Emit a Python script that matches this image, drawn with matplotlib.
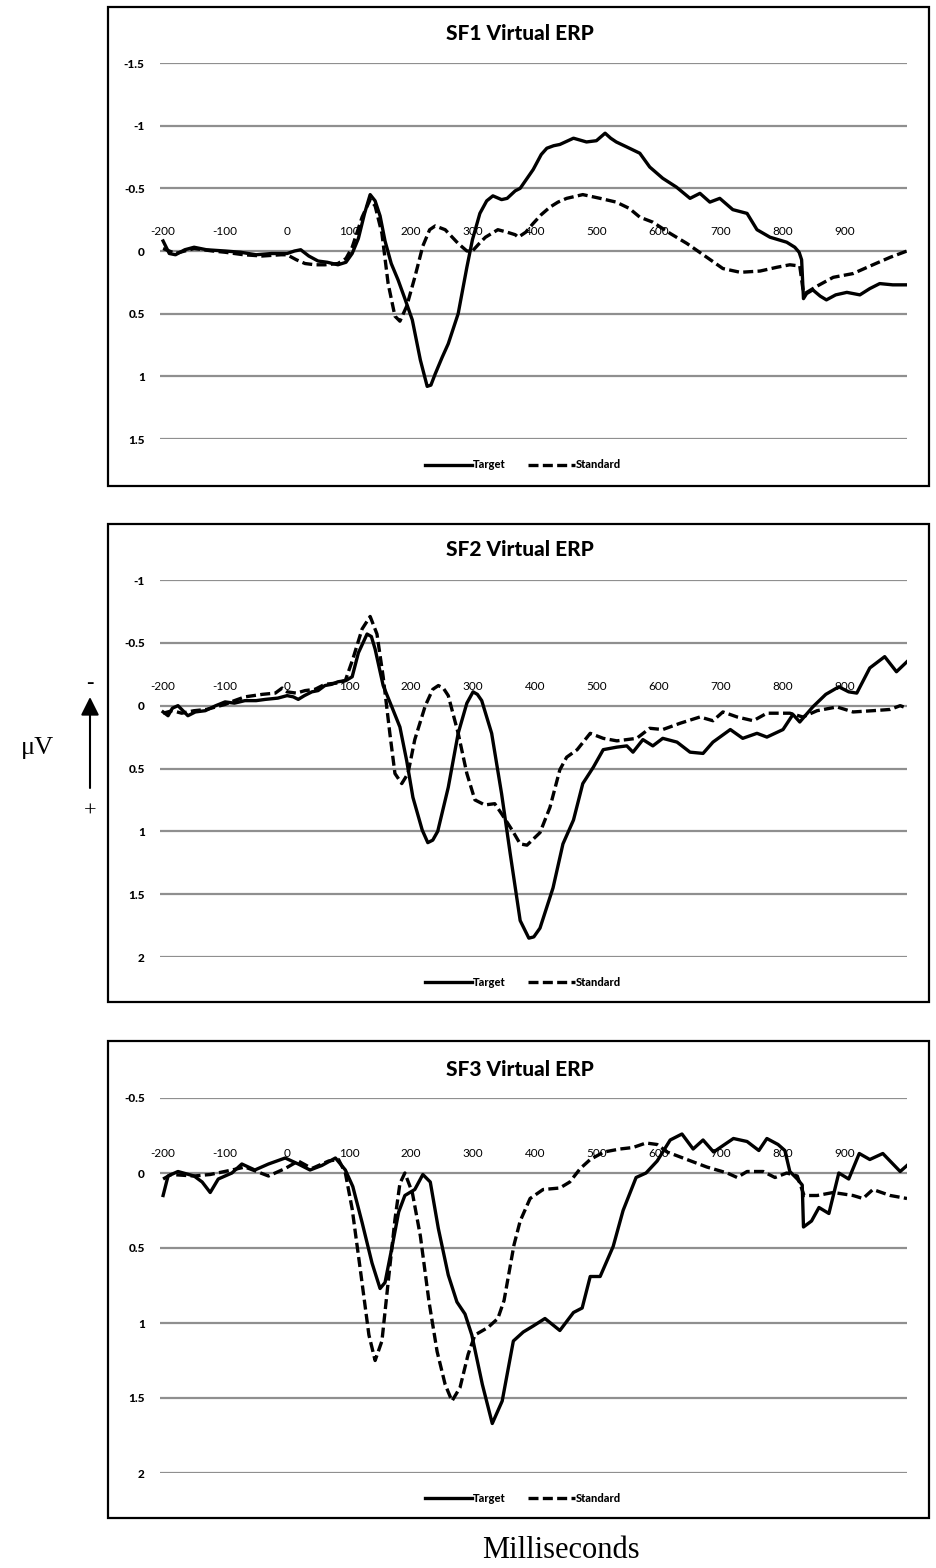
import matplotlib
matplotlib.use('Agg')
import matplotlib.pyplot as plt
from matplotlib.patches import Rectangle, FancyArrowPatch

plt.rcParams['font.family'] = ['Lato', 'DejaVu Sans']
plt.rcParams['axes.unicode_minus'] = False

W, H = 936, 1568

# ---- SF1 ----
sf1_target_ms = [-200, -190, -180, -165, -150, -130, -100, -75, -50, -25, 0, 12, 22, 35, 50, 65, 82, 95,
                 105, 115, 125, 134, 142, 150, 158, 168, 179, 190, 202, 215, 226, 232, 239, 250, 260, 268,
                 276, 290, 299, 311, 322, 332, 346, 355, 368, 376, 390, 397, 410, 419, 430, 440, 462, 483,
                 499, 513, 522, 531, 548, 569, 585, 606, 628, 650, 666, 682, 698, 719, 742, 758, 779, 806,
                 819, 826, 830, 833, 838, 848, 860, 870, 885, 903, 924, 940, 956, 977, 1000]
sf1_target_uv = [-0.08, 0.02, 0.03, -0.01, -0.03, -0.01, 0.0, 0.01, 0.03, 0.02, 0.02, 0.0, -0.01, 0.04, 0.08,
                 0.09, 0.11, 0.09, 0.02, -0.1, -0.3, -0.45, -0.4, -0.28, -0.08, 0.1, 0.23, 0.38, 0.55, 0.87,
                 1.08, 1.07, 0.98, 0.85, 0.74, 0.62, 0.5, 0.13, -0.09, -0.3, -0.4, -0.44, -0.41, -0.42, -0.48,
                 -0.5, -0.6, -0.65, -0.77, -0.82, -0.84, -0.85, -0.9, -0.87, -0.88, -0.94, -0.9, -0.87, -0.83,
                 -0.78, -0.67, -0.58, -0.51, -0.42, -0.46, -0.39, -0.42, -0.33, -0.3, -0.17, -0.11, -0.07,
                 -0.03, 0.01, 0.07, 0.38, 0.34, 0.31, 0.36, 0.39, 0.35, 0.33, 0.35, 0.3, 0.26, 0.27, 0.27]
sf1_standard_ms = [-200, -180, -150, -120, -100, -70, -40, -10, 0, 15, 29, 45, 61, 82, 95, 105, 121, 134, 142,
                   153, 163, 174, 182, 193, 206, 219, 230, 239, 255, 276, 290, 299, 310, 320, 340, 355, 368,
                   373, 385, 397, 410, 424, 437, 451, 477, 505, 531, 552, 569, 590, 618, 645, 677, 703, 731,
                   763, 790, 811, 827, 832, 835, 855, 881, 913, 945, 973, 1000]
sf1_standard_uv = [-0.02, 0.02, -0.02, 0.0, 0.01, 0.03, 0.04, 0.03, 0.03, 0.07, 0.1, 0.11, 0.11, 0.1, 0.06,
                   -0.03, -0.27, -0.41, -0.36, -0.14, 0.26, 0.52, 0.56, 0.44, 0.21, -0.04, -0.17, -0.2, -0.17,
                   -0.06, 0.0, 0.0, -0.06, -0.11, -0.17, -0.15, -0.13, -0.11, -0.15, -0.22, -0.29, -0.35, -0.39,
                   -0.42, -0.45, -0.42, -0.39, -0.34, -0.27, -0.23, -0.14, -0.06, 0.05, 0.14, 0.17, 0.16, 0.13,
                   0.11, 0.12, 0.3, 0.34, 0.28, 0.21, 0.18, 0.11, 0.05, 0.0]

# ---- SF2 ----
sf2_target_ms = [-200, -192, -185, -176, -168, -160, -148, -132, -115, -100, -85, -68, -50, -35, -15, 0, 10, 18,
                 28, 40, 50, 61, 72, 82, 95, 105, 115, 129, 136, 142, 155, 169, 182, 193, 203, 218, 227, 235,
                 243, 260, 276, 290, 300, 307, 314, 330, 346, 360, 376, 390, 398, 408, 429, 445, 462, 477,
                 494, 510, 532, 548, 558, 574, 590, 606, 629, 650, 671, 687, 715, 735, 758, 774, 800, 816,
                 827, 848, 869, 890, 906, 919, 940, 964, 983, 1000]
sf2_target_uv = [0.05, 0.08, 0.02, 0.0, 0.04, 0.08, 0.05, 0.04, 0.0, -0.03, -0.02, -0.04, -0.04, -0.05, -0.06,
                 -0.08, -0.07, -0.05, -0.08, -0.11, -0.12, -0.16, -0.17, -0.19, -0.2, -0.23, -0.42, -0.57,
                 -0.55, -0.45, -0.16, 0.01, 0.17, 0.44, 0.73, 0.99, 1.09, 1.07, 1.0, 0.65, 0.22, -0.02, -0.11,
                 -0.09, -0.04, 0.22, 0.7, 1.18, 1.71, 1.85, 1.84, 1.77, 1.45, 1.1, 0.91, 0.62, 0.49, 0.35,
                 0.33, 0.32, 0.37, 0.27, 0.32, 0.26, 0.29, 0.37, 0.38, 0.29, 0.19, 0.26, 0.22, 0.25, 0.19,
                 0.07, 0.13, 0.01, -0.09, -0.15, -0.11, -0.1, -0.3, -0.39, -0.27, -0.35]
sf2_standard_ms = [-200, -185, -170, -150, -130, -100, -85, -68, -40, -19, -8, 0, 15, 29, 45, 61, 80, 94, 106,
                   121, 134, 145, 155, 166, 174, 185, 195, 206, 223, 235, 244, 252, 260, 276, 290, 303, 319,
                   335, 346, 363, 376, 387, 408, 424, 440, 451, 468, 489, 510, 532, 564, 585, 606, 634, 666,
                   687, 703, 726, 752, 774, 811, 832, 855, 887, 913, 945, 973, 989, 1000]
sf2_standard_uv = [0.06, 0.04, 0.06, 0.04, 0.03, -0.01, -0.04, -0.07, -0.09, -0.1, -0.14, -0.11, -0.1, -0.12,
                   -0.13, -0.17, -0.18, -0.2, -0.37, -0.61, -0.71, -0.57, -0.23, 0.23, 0.54, 0.62, 0.54, 0.27,
                   0.0, -0.13, -0.16, -0.14, -0.08, 0.22, 0.54, 0.75, 0.79, 0.78, 0.86, 0.99, 1.1, 1.11, 1.01,
                   0.81, 0.51, 0.41, 0.35, 0.22, 0.26, 0.28, 0.26, 0.18, 0.19, 0.14, 0.09, 0.12, 0.05, 0.09,
                   0.12, 0.06, 0.06, 0.09, 0.04, 0.01, 0.05, 0.04, 0.03, 0.0, 0.02]

# ---- SF3 ----
sf3_target_ms = [-200, -192, -176, -150, -137, -124, -111, -89, -73, -52, -30, -3, 18, 37, 56, 78, 94, 106, 121,
                 137, 150, 158, 169, 180, 190, 206, 219, 231, 244, 260, 274, 287, 298, 315, 331, 347, 365, 381,
                 397, 416, 440, 462, 476, 489, 505, 526, 542, 563, 579, 597, 618, 637, 655, 671, 688, 720,
                 742, 761, 774, 792, 803, 811, 823, 831, 833, 846, 858, 874, 890, 906, 923, 940, 961, 989, 1000]
sf3_target_uv = [0.15, 0.02, -0.01, 0.02, 0.06, 0.13, 0.04, 0.0, -0.06, -0.02, -0.06, -0.1, -0.06, -0.02, -0.05,
                 -0.1, -0.02, 0.09, 0.33, 0.6, 0.77, 0.73, 0.5, 0.26, 0.15, 0.11, 0.01, 0.06, 0.37, 0.68, 0.86,
                 0.94, 1.08, 1.41, 1.67, 1.52, 1.12, 1.06, 1.02, 0.97, 1.05, 0.93, 0.9, 0.69, 0.69, 0.49, 0.25,
                 0.03, 0.0, -0.08, -0.22, -0.26, -0.16, -0.22, -0.14, -0.23, -0.21, -0.15, -0.23, -0.19, -0.15,
                 -0.01, 0.04, 0.08, 0.36, 0.32, 0.23, 0.27, 0.0, 0.04, -0.13, -0.09, -0.13, -0.01, -0.05]
sf3_standard_ms = [-200, -187, -150, -124, -89, -68, -30, -3, 18, 40, 67, 83, 94, 105, 118, 132, 142, 153, 163,
                   174, 182, 190, 202, 215, 229, 242, 255, 266, 279, 292, 303, 324, 340, 350, 366, 376, 392,
                   413, 440, 456, 473, 489, 511, 537, 558, 579, 597, 613, 645, 677, 710, 726, 742, 768, 787,
                   806, 823, 834, 855, 881, 913, 929, 945, 973, 1000]
sf3_standard_uv = [0.04, 0.01, 0.02, 0.01, -0.02, -0.04, 0.02, -0.03, -0.08, -0.03, -0.08, -0.09, 0.0, 0.24,
                   0.64, 1.08, 1.25, 1.12, 0.73, 0.31, 0.07, 0.0, 0.13, 0.42, 0.86, 1.19, 1.41, 1.52, 1.43,
                   1.21, 1.08, 1.03, 0.97, 0.85, 0.48, 0.32, 0.17, 0.11, 0.1, 0.06, -0.03, -0.09, -0.14, -0.16,
                   -0.17, -0.2, -0.19, -0.14, -0.09, -0.04, 0.0, 0.03, -0.01, -0.01, 0.03, 0.0, 0.02, 0.15,
                   0.15, 0.13, 0.15, 0.17, 0.11, 0.15, 0.17]

x_ticks = list(range(-200, 1000, 100))
x_tick_labels = [str(t) for t in x_ticks]

sf1_y_ticks = [-1.5, -1, -0.5, 0, 0.5, 1, 1.5]
sf1_y_labels = ['-1.5', '-1', '-0.5', '0', '0.5', '1', '1.5']
sf2_y_ticks = [-1, -0.5, 0, 0.5, 1, 1.5, 2]
sf2_y_labels = ['-1', '-0.5', '0', '0.5', '1', '1.5', '2']
sf3_y_ticks = [-0.5, 0, 0.5, 1, 1.5, 2]
sf3_y_labels = ['-0.5', '0', '0.5', '1', '1.5', '2']

fig = plt.figure(figsize=(W / 100, H / 100), dpi=100)


def fig_box(left, top, right, bottom):
    # pixel box -> figure fraction [x0, y0, w, h]
    return [left / W, 1 - bottom / H, (right - left) / W, (bottom - top) / H]


def draw_panel(plot_px, frame_px, title, title_y, legend_y, y_ticks, y_labels,
               t_ms, t_uv, s_ms, s_uv):
    ax = fig.add_axes(fig_box(*plot_px))
    ax.plot(t_ms, t_uv, color='black', lw=2.4, label='Target')
    ax.plot(s_ms, s_uv, color='black', lw=2.4, linestyle=(0, (3, 1.3)), label='Standard')
    ax.set_xlim(-205, 1000)
    ax.set_ylim(y_ticks[-1], y_ticks[0])  # negative up
    ax.set_yticks(y_ticks)
    ax.set_yticklabels(y_labels, fontweight='black')
    ax.set_xticks(x_ticks)
    ax.set_xticklabels(x_tick_labels, fontweight='black')
    # x labels sit just above the zero line
    ax.xaxis.tick_top()
    ax.spines['top'].set_position(('data', 0))
    for s in ax.spines.values():
        s.set_visible(False)
    ax.tick_params(axis='x', length=0, pad=10, labelsize=8.5)
    ax.tick_params(axis='y', length=0, pad=11, labelsize=8.5)
    ax.grid(axis='y', color='#8f8f8f', lw=1.6)
    ax.set_axisbelow(True)
    ax.patch.set_alpha(0)

    fig.text(520 / W, 1 - title_y / H, title, ha='center', va='center',
             fontsize=15, fontweight='black')
    ax.legend(loc='center', bbox_to_anchor=(523 / W, 1 - legend_y / H), bbox_transform=fig.transFigure,
              ncol=2, frameon=False, handlelength=4.2, handletextpad=0.1, columnspacing=2.0,
              prop={'weight': 'black', 'size': 8})

    l, t, r, b = frame_px
    fig.add_artist(Rectangle((l / W, 1 - b / H), (r - l) / W, (b - t) / H, transform=fig.transFigure,
                             fill=False, edgecolor='black', lw=1.6))
    return ax


draw_panel((160, 63, 907, 439), (108, 7, 929, 486), 'SF1 Virtual ERP', 34, 465,
           sf1_y_ticks, sf1_y_labels, sf1_target_ms, sf1_target_uv, sf1_standard_ms, sf1_standard_uv)
draw_panel((160, 580, 907, 957), (108, 524, 929, 1002), 'SF2 Virtual ERP', 550, 982,
           sf2_y_ticks, sf2_y_labels, sf2_target_ms, sf2_target_uv, sf2_standard_ms, sf2_standard_uv)
draw_panel((160, 1098, 907, 1473), (108, 1041, 929, 1518), 'SF3 Virtual ERP', 1069, 1498,
           sf3_y_ticks, sf3_y_labels, sf3_target_ms, sf3_target_uv, sf3_standard_ms, sf3_standard_uv)

# polarity note on the left
serif = ['Liberation Serif', 'DejaVu Serif']
fig.text(37 / W, 1 - 748 / H, 'μV', family=serif, fontsize=19, ha='center', va='center')
fig.text(90 / W, 1 - 683 / H, '-', family=serif, fontsize=16, ha='center', va='center')
fig.text(90 / W, 1 - 812 / H, '+', family=serif, fontsize=16, ha='center', va='center')
fig.add_artist(FancyArrowPatch((90 / W, 1 - 788 / H), (90 / W, 1 - 697 / H), transform=fig.transFigure,
                               arrowstyle='-|>,head_length=1.1,head_width=0.55', mutation_scale=10,
                               lw=1.5, color='black', shrinkA=0, shrinkB=0))

fig.text(561 / W, 1 - 1550 / H, 'Milliseconds', family=serif, fontsize=22, ha='center', va='center')

fig.savefig('out.png', dpi=100)
